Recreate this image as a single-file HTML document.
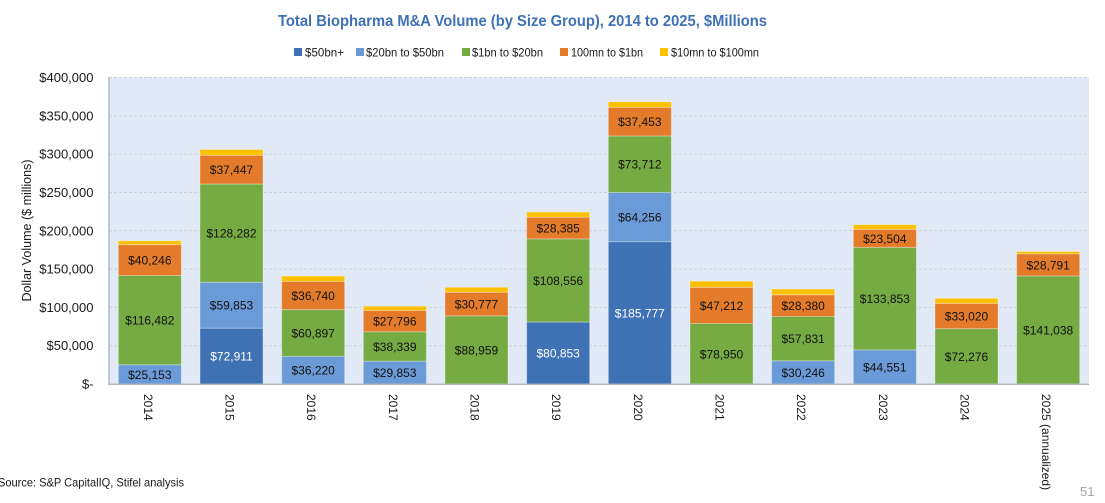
<!DOCTYPE html>
<html lang="en">
<head>
<meta charset="utf-8">
<title>Total Biopharma M&amp;A Volume</title>
<style>
html,body{margin:0;padding:0;background:#fff;width:1105px;height:503px;overflow:hidden}
svg{display:block;font-family:"Liberation Sans",Arial,sans-serif}
</style>
</head>
<body>
<svg id="chart" width="1105" height="503" viewBox="0 0 1105 503" xmlns="http://www.w3.org/2000/svg">
  <text x="278" y="26" font-size="16" font-weight="bold" fill="#3f72b5" textLength="489" lengthAdjust="spacingAndGlyphs">Total Biopharma M&amp;A Volume (by Size Group), 2014 to 2025, $Millions</text>
  <rect x="109" y="77.5" width="980" height="306.5" fill="#e0e9f5"/>
  <g id="grid"></g>
  <g id="bars"></g>
  <g id="yticks"></g>
  <g id="xticks"></g>
  <line x1="109" y1="77" x2="109" y2="385" stroke="#b0b5bc" stroke-width="1.4"/>
  <line x1="109" y1="384.3" x2="1089" y2="384.3" stroke="#b0b5bc" stroke-width="1.4"/>
  <text transform="translate(31,230.5) rotate(-90)" font-size="12.5" fill="#1a1a1a" text-anchor="middle" textLength="142" lengthAdjust="spacingAndGlyphs">Dollar Volume ($ millions)</text>
  <g>
    <rect x="294" y="48" width="8" height="8" fill="#3f72b5"/>
    <text x="305" y="56.5" font-size="12" fill="#1a1a1a" textLength="39" lengthAdjust="spacingAndGlyphs">$50bn+</text>
    <rect x="356" y="48" width="8" height="8" fill="#6a9bd6"/>
    <text x="366" y="56.5" font-size="12" fill="#1a1a1a" textLength="78" lengthAdjust="spacingAndGlyphs">$20bn to $50bn</text>
    <rect x="462" y="48" width="8" height="8" fill="#76ab43"/>
    <text x="472" y="56.5" font-size="12" fill="#1a1a1a" textLength="71" lengthAdjust="spacingAndGlyphs">$1bn to $20bn</text>
    <rect x="560" y="48" width="8" height="8" fill="#e47b2a"/>
    <text x="571" y="56.5" font-size="12" fill="#1a1a1a" textLength="72" lengthAdjust="spacingAndGlyphs">100mn to $1bn</text>
    <rect x="660" y="48" width="8" height="8" fill="#fbc000"/>
    <text x="671" y="56.5" font-size="12" fill="#1a1a1a" textLength="88" lengthAdjust="spacingAndGlyphs">$10mn to $100mn</text>
  </g>
  <text x="-2" y="486.5" font-size="12" fill="#1a1a1a" textLength="186" lengthAdjust="spacingAndGlyphs">Source: S&amp;P CapitalIQ, Stifel analysis</text>
  <text x="1080" y="496" font-size="13" fill="#a6a6a6">51</text>
</svg>
<script>
const categories = ['2014','2015','2016','2017','2018','2019','2020','2021','2022','2023','2024','2025 (annualized)'];
const seriesNames = ['50bn-plus','20bn-to-50bn','1bn-to-20bn','100mn-to-1bn','10mn-to-100mn'];
const seriesColors = ['#3f72b5','#6a9bd6','#76ab43','#e47b2a','#fbc000'];
const values50bnPlus = [0,72911,0,0,0,80853,185777,0,0,0,0,0];
const values20bnTo50bn = [25153,59853,36220,29853,0,0,64256,0,30246,44551,0,0];
const values1bnTo20bn = [116482,128282,60897,38339,88959,108556,73712,78950,57831,133853,72276,141038];
const values100mnTo1bn = [40246,37447,36740,27796,30777,28385,37453,47212,28380,23504,33020,28791];
const values10mnTo100mn = [5000,7500,7000,5500,6500,6500,7000,8000,7500,6000,6500,3000];
const yTicks = [0,50000,100000,150000,200000,250000,300000,350000,400000];

const NS = 'http://www.w3.org/2000/svg';
const plotLeft = 109, plotRight = 1089, plotTop = 77.5, plotBottom = 384;
const yMax = 400000;
const allSeries = [values50bnPlus, values20bnTo50bn, values1bnTo20bn, values100mnTo1bn, values10mnTo100mn];
const labelled = [true, true, true, true, false];

function yScale(v) {
  return plotBottom - (v / yMax) * (plotBottom - plotTop);
}
function xCenter(i) {
  return plotLeft + (plotRight - plotLeft) * (i + 0.5) / categories.length;
}
function money(v) {
  return '$' + v.toLocaleString('en-US');
}
function make(tag, attrs, parent) {
  const el = document.createElementNS(NS, tag);
  for (const k in attrs) el.setAttribute(k, attrs[k]);
  parent.appendChild(el);
  return el;
}

const gridG = document.getElementById('grid');
const yG = document.getElementById('yticks');
yTicks.forEach(function (t) {
  if (t > 0) {
    const gl = make('line', {x1: plotLeft, x2: plotRight, y1: yScale(t), y2: yScale(t), stroke: '#ccd0d5', 'stroke-width': 1, 'stroke-dasharray': '3 2'}, gridG);
    
    
  }
  const lab = make('text', {x: 93.5, y: yScale(t) + 4.5, 'font-size': 13, fill: '#1a1a1a', 'text-anchor': 'end'}, yG);
  lab.textContent = t === 0 ? '$-' : money(t);
  
  
});

const barW = 63;
const barsG = document.getElementById('bars');
const xG = document.getElementById('xticks');
categories.forEach(function (cat, i) {
  const cx = xCenter(i);
  let base = 0;
  allSeries.forEach(function (vals, s) {
    const v = vals[i];
    if (!v) return;
    const y1 = yScale(base + v), y0 = yScale(base);
    const r = make('rect', {x: cx - barW / 2, y: y1, width: barW, height: y0 - y1, fill: seriesColors[s], stroke: '#ffffff', 'stroke-opacity': 0.3, 'stroke-width': 1}, barsG);
    
    
    if (labelled[s]) {
      const t = make('text', {x: cx, y: (y0 + y1) / 2 + 4.5, 'font-size': 12, 'text-anchor': 'middle', fill: s === 0 ? '#ffffff' : '#111111'}, barsG);
      t.textContent = money(v);
      
      
    }
    base += v;
  });
  const tick = make('text', {transform: 'translate(' + (cx - 6) + ',394) rotate(90)', 'font-size': 12, fill: '#1a1a1a'}, xG);
  tick.textContent = cat;
  
  
});
</script>
</body>
</html>
